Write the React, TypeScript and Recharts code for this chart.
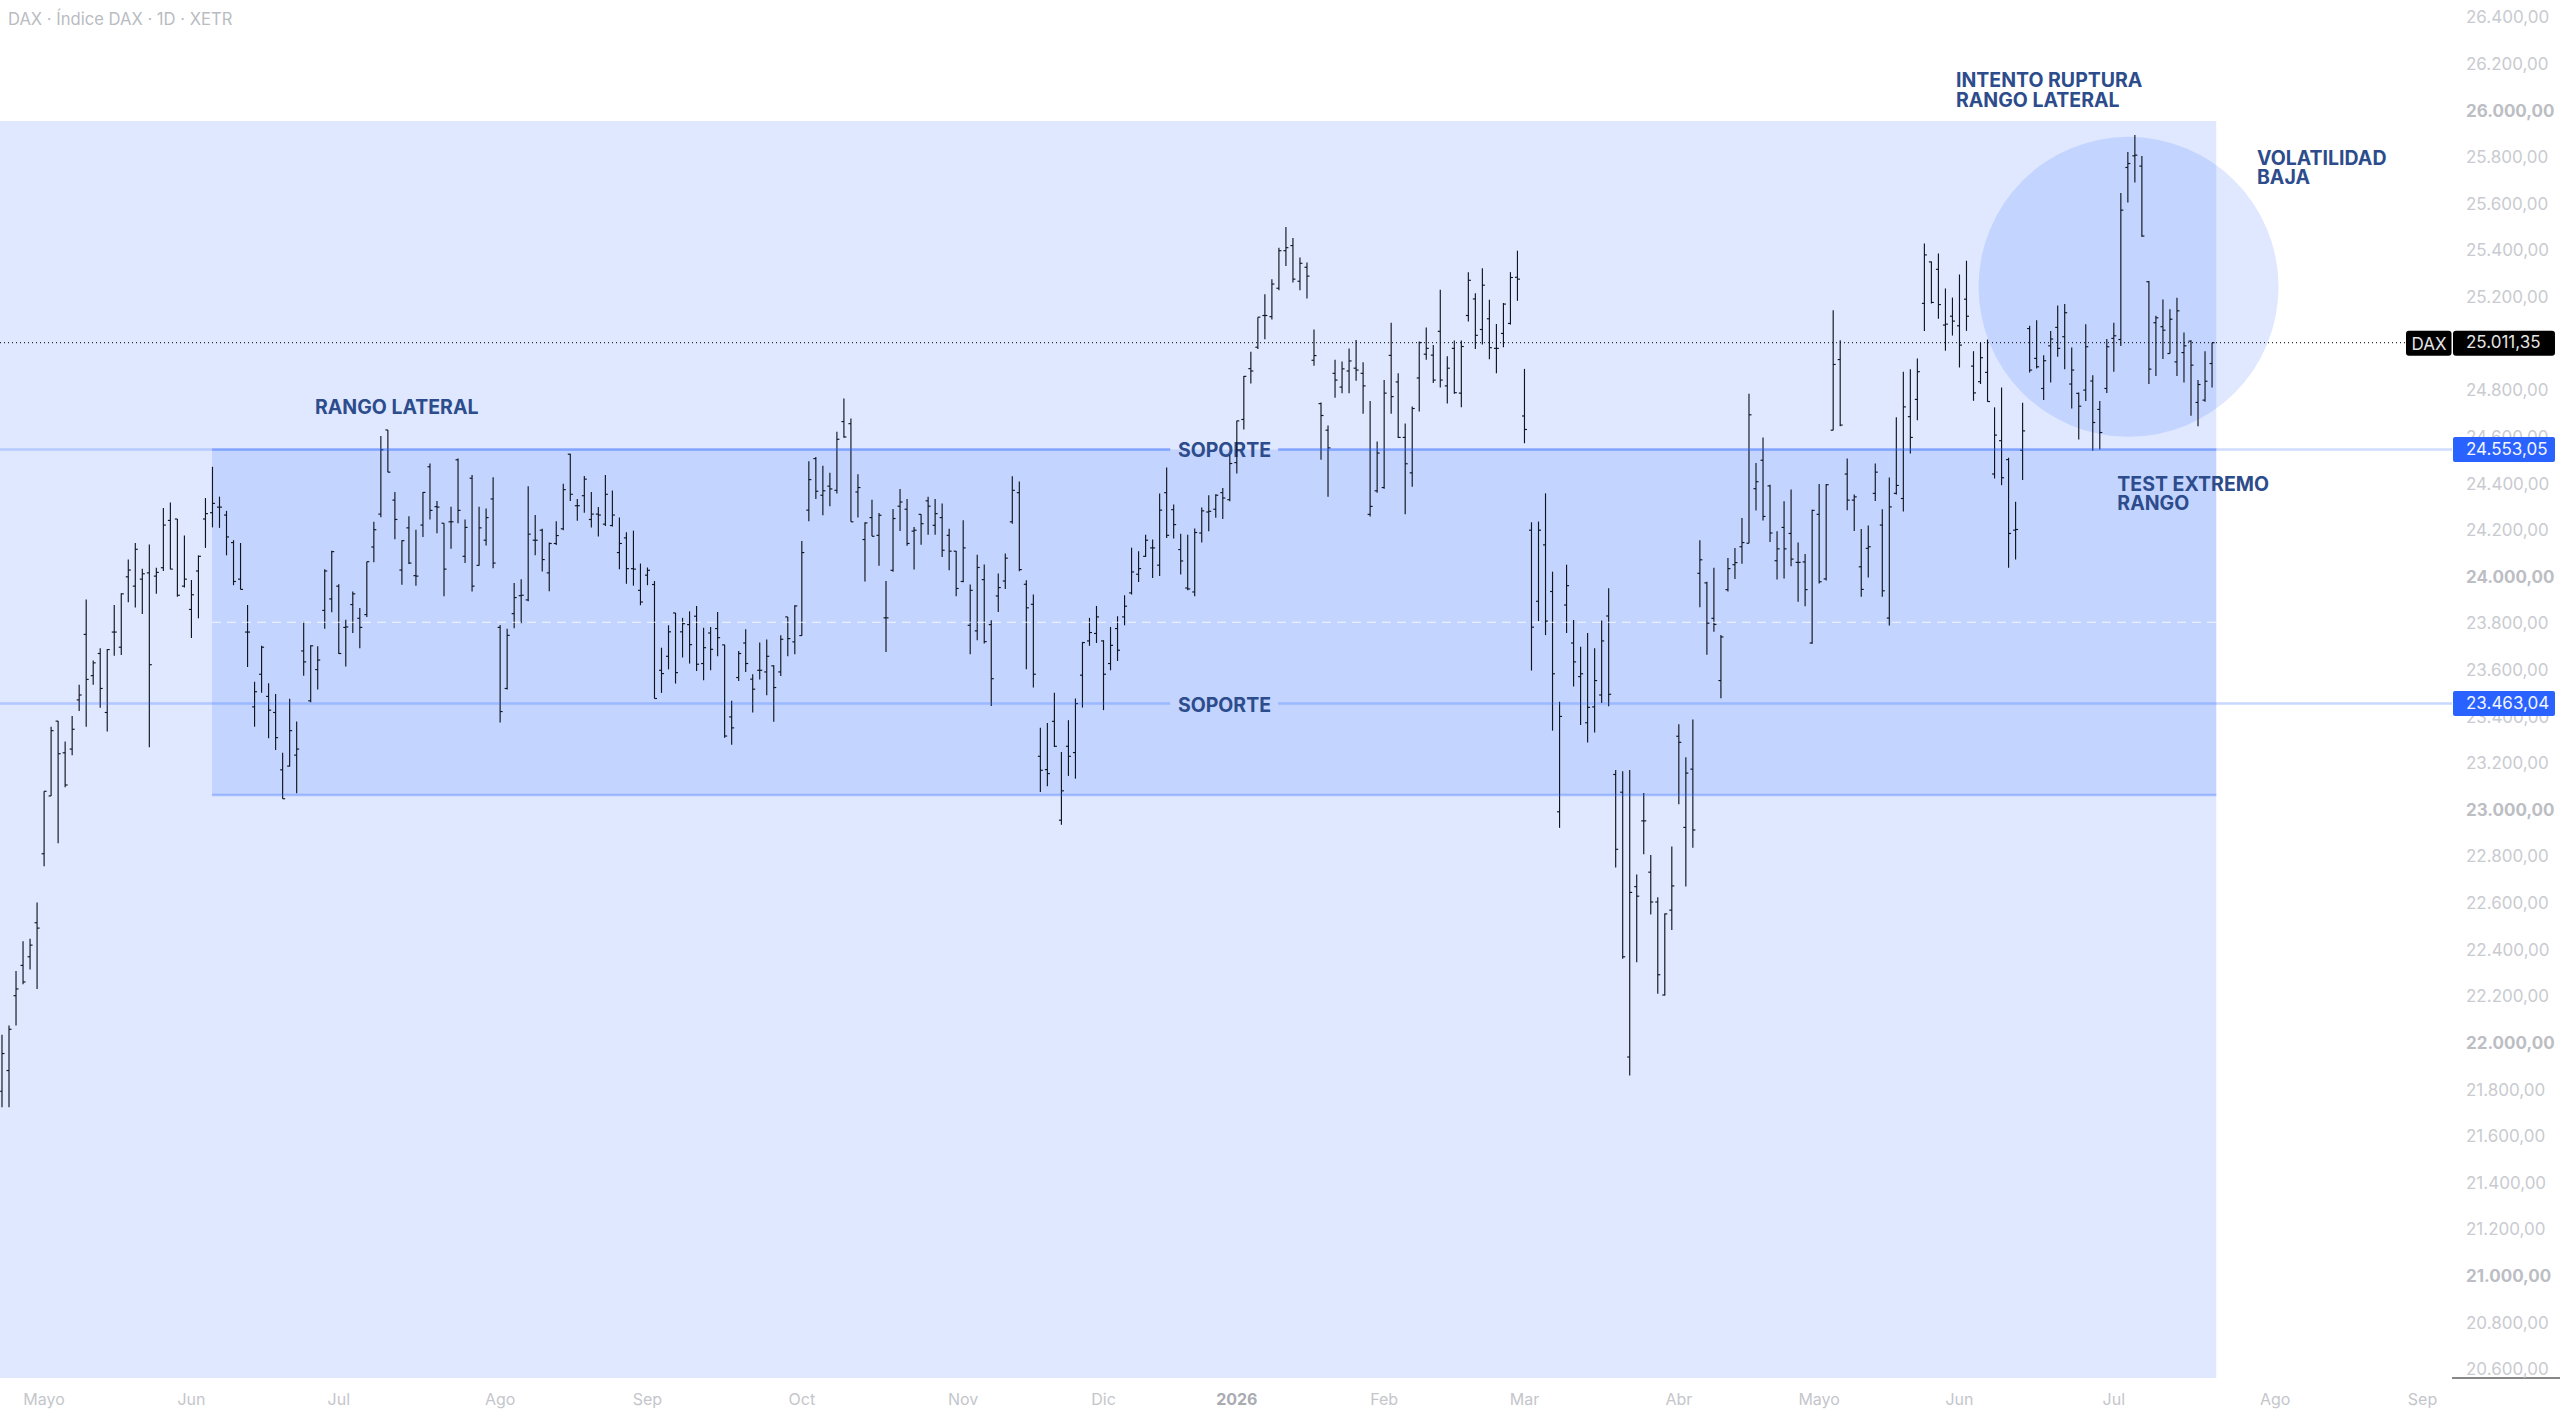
import { Bar, ComposedChart, ReferenceArea, ReferenceDot, ReferenceLine, XAxis, YAxis } from "recharts";

const opens = [21800,21889,22210,22340,22377,22523,22819,23067,23388,23252,23268,23479,23760,23583,23678,23425,23770,23705,24007,23967,23997,24024,24010,24046,24249,24255,23967,23867,24032,24255,24282,24306,24272,24154,23997,23770,23449,23589,23494,23425,23179,23195,23242,23689,23475,23609,23863,23912,23967,23790,23888,23829,23845,24135,24276,24637,24336,24036,24217,24012,24229,24479,24308,24237,24243,24509,24095,24430,24056,24164,24341,23790,23528,23849,23926,23908,24164,24207,24024,24150,24213,24533,24312,24355,24253,24276,24233,24227,24111,24174,24042,
  23949,24014,23974,23606,23666,23852,23771,23802,23838,23635,23766,23785,23715,23406,23575,23723,23568,23606,23599,23625,23599,23835,23728,23755,24293,24514,24357,24396,24378,24673,24664,24371,24167,24261,24185,23831,24035,24310,24297,24203,24275,24333,24228,24261,24185,24117,23987,23799,23775,23995,23802,23925,23989,24243,24368,23975,23889,23237,23180,23387,22963,23280,23253,23585,23732,23764,23732,23635,23785,23835,23938,24018,24095,24131,24057,24368,24295,24124,23959,23942,24195,24285,24297,24368,24338,24497,24682,24900,
  24992,25128,25123,25245,25406,25428,25275,25335,24936,24750,24636,24880,24821,24890,24902,24880,24275,24376,24390,24957,24843,24605,24453,24860,24962,24958,25060,24826,24987,24795,25128,25199,25068,25114,24987,25051,25094,25292,24697,24207,23902,24144,23944,22999,23886,23723,23579,23381,23449,23500,23839,23159,23083,21947,22678,22960,22740,22612,22213,22577,23323,22932,23182,24022,23981,23829,23562,23952,24059,24136,24151,24385,24507,24397,24076,24219,24193,24069,24071,23723,24275,23998,
  24636,24939,24448,24336,24050,24129,24365,24229,23830,24365,24343,24694,24768,25180,25358,25326,25087,25125,25084,25198,24911,24844,24884,24448,24591,24510,24207,24550,25072,24944,24815,24998,25077,25037,24834,24794,24808,24847,24725,24815,25030,25025,25763,25813,25769,25273,25097,25080,24965,24929,24969,25018,24755,24765,24922];
const highs = [22042,22082,22316,22444,22454,22610,23087,23364,23388,23301,23410,23544,23910,23648,23701,23697,23886,23936,24081,24152,24042,24146,24046,24302,24326,24255,24184,23993,24099,24345,24479,24351,24290,24164,24152,23886,23557,23711,23550,23504,23252,23484,23386,23814,23713,23709,24040,24119,23975,23823,23944,23873,24072,24243,24611,24637,24371,24164,24267,24209,24371,24493,24332,24237,24308,24515,24253,24444,24308,24300,24434,23800,23784,23981,23997,24395,24272,24213,24154,24245,24406,24535,24341,24440,24371,24306,24444,24377,24261,24198,24205,
  24064,24047,23989,23703,23799,23852,23831,23859,23882,23788,23792,23856,23716,23475,23689,23782,23589,23725,23738,23628,23756,23835,23885,24161,24503,24521,24483,24453,24629,24772,24686,24447,24241,24338,24281,23989,24298,24384,24341,24221,24275,24350,24341,24321,24213,24118,24250,23974,24102,24060,23821,24021,24107,24438,24416,23992,23931,23360,23380,23510,23256,23392,23485,23728,23831,23882,23735,23792,23838,23928,24132,24117,24187,24167,24364,24476,24317,24192,24188,24214,24304,24357,24361,24388,24529,24676,24869,24972,
  25121,25219,25284,25419,25508,25460,25377,25355,25068,24755,24656,24938,24931,24987,25023,24928,24761,24588,24851,25097,24880,24665,24738,25016,25077,25002,25238,24953,25021,25021,25314,25224,25331,25196,25092,25182,25314,25406,24899,24241,24244,24365,24029,23471,24059,23822,23707,23766,23701,23820,23958,23178,23173,23178,22730,23080,22814,22632,22563,22850,23375,23233,23395,24164,23986,24046,23757,24088,24131,24259,24792,24495,24605,24402,24202,24331,24382,24154,24105,24295,24405,24405,
  25151,25022,24515,24360,24212,24227,24493,24297,24433,24691,24887,24897,24944,25437,25360,25394,25244,25205,25304,25363,24975,25012,25025,24734,24819,24518,24329,24754,25084,25108,24958,25062,25171,25177,24991,24798,25090,24872,24761,25027,25097,25654,25829,25902,25812,25276,25127,25197,25155,25204,25055,25022,24851,24975,25011.35];
const lows = [21731,21731,22082,22259,22322,22239,22765,23067,22864,23104,23242,23431,23364,23544,23445,23343,23668,23672,23898,23875,23847,23276,23934,24032,24040,23922,23961,23745,23829,24131,24219,24217,24099,23971,23953,23620,23364,23510,23315,23264,23055,23193,23079,23583,23469,23524,23784,23855,23676,23622,23766,23701,23835,24070,24263,24456,24168,23973,24062,23969,24178,24253,24194,23924,24127,24237,24066,23944,24056,24141,24044,23382,23524,23786,23808,23902,24099,24030,23945,24143,24207,24332,24247,24282,24219,24180,24225,24223,24040,23977,23969,
  23885,23971,23485,23509,23610,23549,23661,23635,23603,23563,23606,23666,23317,23287,23560,23599,23425,23566,23499,23385,23581,23666,23675,23754,24245,24341,24271,24310,24364,24604,24243,24261,23987,24181,24054,23685,24029,24204,24140,24038,24145,24188,24188,24092,24035,23924,23984,23675,23735,23721,23453,23856,23955,24235,24031,23610,23532,23084,23109,23277,22943,23153,23141,23446,23711,23723,23435,23606,23646,23799,23931,23985,24092,24002,24011,24174,24171,24017,23949,23924,24154,24203,24260,24255,24331,24450,24639,24836,
  24984,25026,25111,25236,25340,25270,25236,25201,24912,24509,24351,24775,24795,24794,24848,24707,24266,24368,24385,24707,24602,24275,24393,24716,24938,24838,24819,24751,24792,24734,25102,24984,25004,24940,24880,24992,25089,25191,24580,23605,23817,23757,23347,22930,23766,23537,23371,23296,23339,23466,23452,22760,22369,21868,22354,22817,22558,22218,22211,22492,23031,22678,22845,23876,23673,23771,23486,23944,23998,24063,24151,24292,24249,24156,23995,24000,24052,23900,23881,23720,23978,23991,
  24636,24653,24293,24204,23921,24004,24332,23921,23798,24360,24287,24536,24679,25062,25180,25114,24977,25042,24905,25062,24762,24834,24758,24429,24400,24046,24081,24422,24884,24901,24765,24841,24951,24897,24729,24596,24761,24548,24553,24796,24887,24997,25613,25699,25466,24834,24869,24941,24965,24869,24841,24698,24653,24758,24819];
const closes = [21962,22066,22239,22269,22427,22500,23087,23347,23248,23114,23353,23500,23567,23638,23528,23695,23770,23934,24036,24125,24020,23630,24026,24229,24040,23928,23997,23930,24095,24278,24322,24306,24178,23987,23953,23770,23514,23705,23435,23317,23055,23347,23268,23642,23711,23650,24032,24115,23678,23792,23934,23790,24072,24209,24552,24456,24253,24162,24066,24010,24369,24292,24306,24040,24243,24292,24219,23967,24217,24261,24066,23429,23756,23918,23928,24190,24164,24081,24150,24184,24381,24361,24312,24426,24276,24272,24361,24272,24150,24042,24040,
  23899,24035,23485,23592,23771,23596,23806,23716,23632,23703,23696,23746,23324,23359,23678,23635,23525,23606,23666,23532,23739,23742,23882,24111,24424,24374,24376,24384,24597,24607,24243,24390,24238,24181,24271,23831,24257,24328,24150,24207,24235,24310,24278,24121,24117,23957,24131,23949,24047,23729,23570,23961,24087,24378,24038,23874,23589,23177,23163,23280,23089,23237,23463,23725,23768,23835,23589,23713,23692,23881,24028,24042,24164,24131,24293,24185,24231,24075,23955,24197,24290,24288,24357,24345,24493,24676,24867,24890,
  25121,25128,25263,25406,25419,25284,25352,25297,24956,24699,24560,24851,24899,24933,24894,24826,24309,24538,24795,24780,24605,24492,24729,25012,24987,24851,24851,24902,24797,24995,25279,25043,25258,24990,24987,25177,25291,25284,24639,23791,24207,23817,23591,23408,23969,23642,23591,23447,23562,23732,23503,22838,22377,22653,22637,22960,22612,22300,22561,22681,23297,23165,22921,24080,23808,23803,23749,24042,24068,24154,24702,24415,24266,24195,24127,24127,24083,24069,23952,24292,23986,24402,
  24918,24658,24336,24350,23953,24136,24456,23947,24307,24399,24736,24605,24887,25388,25184,25175,25091,25104,25001,25125,24796,24947,24759,24615,24432,24193,24210,24633,24894,24908,24934,25027,24987,25140,24894,24739,24994,24669,24626,24994,25041,25580,25780,25816,25469,24898,25118,25065,25112,25148,24998,24915,24832,24846,25011.35];

const rows = closes.map((close, i) => ({ i, open: opens[i], close, range: [lows[i], highs[i]] }));

// el 25.000,00 queda tapado por la etiqueta negra, no se dibuja
const priceTicks = [26400,26200,26000,25800,25600,25400,25200,24800,24600,24400,24200,24000,23800,23600,23400,23200,23000,22800,22600,22400,22200,22000,21800,21600,21400,21200,21000,20800,20600];
const lastPrice = 25011.35;
const upperLevel = 24553.05;
const lowerLevel = 23463.04;

const monthTicks = [6,27,48,71,92,114,137,157,176,197,217,239,259,279,301,324,345];
const monthLabels = ["Mayo","Jun","Jul","Ago","Sep","Oct","Nov","Dic","2026","Feb","Mar","Abr","Mayo","Jun","Jul","Ago","Sep"];

const X_MIN = -0.285;
const X_MAX = 349.2;
const Y_MIN = 20570;
const Y_MAX = 26481.5;
const BAND_END = 315.6;
const RANGE_START = 29.93;
const RANGE_LOW = 23071;
const INK = "#2d4c8c";
const FONT = "Inter, sans-serif";

const notes = [
  { text: "RANGO LATERAL", x: 44.6, y: 24735 },
  { text: "INTENTO RUPTURA", x: 278.5, y: 26138 },
  { text: "RANGO LATERAL", x: 278.5, y: 26052 },
  { text: "VOLATILIDAD", x: 321.4, y: 25803 },
  { text: "BAJA", x: 321.4, y: 25722 },
  { text: "TEST EXTREMO", x: 301.5, y: 24405 },
  { text: "RANGO", x: 301.5, y: 24323 },
  { text: "SOPORTE", x: 167.6, y: 24551 },
  { text: "SOPORTE", x: 167.6, y: 23459 },
];

const fmt = (v: number) => v.toLocaleString("de-DE", { minimumFractionDigits: 2, maximumFractionDigits: 2 });

// OHLC: palo de máximo a mínimo, apertura a la izquierda y cierre a la derecha
function OhlcBar({ x, y, width, height, payload }: any) {
  const cx = x + width / 2;
  const [low, high] = payload.range;
  const perUnit = height / (high - low);
  const openY = y + (high - payload.open) * perUnit;
  const closeY = y + (high - payload.close) * perUnit;
  return (
    <g stroke="#12151f" strokeWidth={1.15}>
      <line x1={cx} x2={cx} y1={y} y2={y + height} />
      <line x1={cx - 2.5} x2={cx} y1={openY} y2={openY} />
      <line x1={cx} x2={cx + 2.5} y1={closeY} y2={closeY} />
    </g>
  );
}

function PriceTick({ x, y, payload }: any) {
  const value = payload.value;
  if (value === lastPrice) {
    return (
      <g fontFamily={FONT} fontSize={17}>
        <rect x={x - 46} y={y - 12} width={45.5} height={25} rx={3} fill="#000" />
        <rect x={x + 1} y={y - 12} width={102} height={25} rx={3} fill="#000" />
        <text x={x - 23} y={y + 1} textAnchor="middle" dominantBaseline="central" fill="#e4e4e4">DAX</text>
        <text x={x + 14} y={y - 0.5} dominantBaseline="central" fill="#e4e4e4">{fmt(value)}</text>
      </g>
    );
  }
  if (value === upperLevel || value === lowerLevel) {
    return (
      <g fontFamily={FONT} fontSize={17}>
        <rect x={x + 1} y={y - 12.5} width={102} height={25} rx={2} fill="#2962ff" />
        <text x={x + 14} y={y - 1} dominantBaseline="central" fill="#f2f5ff">{fmt(value)}</text>
      </g>
    );
  }
  const major = value % 1000 === 0;
  return (
    <text x={x + 14} y={y - 1.7} dominantBaseline="central" fontFamily={FONT} fontSize={17} fontWeight={major ? 700 : 400} fill={major ? "#bcbec4" : "#c9cbd0"}>
      {fmt(value)}
    </text>
  );
}

function MonthTick({ x, y, payload, index }: any) {
  const label = monthLabels[monthTicks.indexOf(payload.value)] ?? monthLabels[index];
  const isYear = label === "2026";
  return (
    <text x={x} y={y} textAnchor="middle" dominantBaseline="central" fontFamily={FONT} fontSize={16} fontWeight={isYear ? 700 : 400} fill={isYear ? "#a9abb2" : "#c4c6cb"}>
      {label}
    </text>
  );
}

const noteShape = (text: string) => (props: any) => (
  <text x={props.cx} y={props.cy} dominantBaseline="central" fontFamily={FONT} fontSize={19.5} fontWeight={700} fill={INK}>
    {text}
  </text>
);

export default function App() {
  return (
    <div style={{ position: "fixed", left: 0, top: 0, width: 2560, height: 1413, background: "#fff" }}>
      <div style={{ position: "absolute", left: 8, top: 9, fontFamily: FONT, fontSize: 16.6, lineHeight: "20px", color: "#babcc2" }}>
        DAX · Índice DAX · 1D · XETR
      </div>
      <ComposedChart width={2560} height={1413} data={rows} margin={{ top: 0, right: 0, bottom: 0, left: 0 }}>
        <XAxis
          dataKey="i"
          type="number"
          domain={[X_MIN, X_MAX]}
          ticks={monthTicks}
          interval={0}
          height={35}
          axisLine={false}
          tickLine={false}
          tickMargin={0}
          tick={(p: any) => <MonthTick {...p} y={1399} />}
        />
        <YAxis
          orientation="right"
          type="number"
          domain={[Y_MIN, Y_MAX]}
          ticks={[...priceTicks, lowerLevel, upperLevel, lastPrice]}
          interval={0}
          width={108}
          axisLine={false}
          tickLine={false}
          tick={(p: any) => <PriceTick {...p} x={2452} />}
        />

        <ReferenceArea x1={X_MIN} x2={BAND_END} y1={Y_MIN} y2={25962} fill="#2962ff" fillOpacity={0.15} stroke="none" />
        <ReferenceArea x1={RANGE_START} x2={BAND_END} y1={RANGE_LOW} y2={upperLevel} fill="#2962ff" fillOpacity={0.15} stroke="none" />
        <ReferenceDot x={303.1} y={25251} r={150} fill="#2962ff" fillOpacity={0.15} stroke="none" zIndex={100} />

        <ReferenceLine segment={[{ x: RANGE_START, y: upperLevel }, { x: 166.5, y: upperLevel }]} stroke="#2962ff" strokeOpacity={0.3} strokeWidth={2.5} />
        <ReferenceLine segment={[{ x: 181.9, y: upperLevel }, { x: BAND_END, y: upperLevel }]} stroke="#2962ff" strokeOpacity={0.3} strokeWidth={2.5} />
        <ReferenceLine segment={[{ x: RANGE_START, y: RANGE_LOW }, { x: BAND_END, y: RANGE_LOW }]} stroke="#2962ff" strokeOpacity={0.3} strokeWidth={2.5} />
        <ReferenceLine segment={[{ x: X_MIN, y: upperLevel }, { x: 166.5, y: upperLevel }]} stroke="#2962ff" strokeOpacity={0.22} strokeWidth={2.5} />
        <ReferenceLine segment={[{ x: 181.9, y: upperLevel }, { x: X_MAX, y: upperLevel }]} stroke="#2962ff" strokeOpacity={0.22} strokeWidth={2.5} />
        <ReferenceLine segment={[{ x: X_MIN, y: lowerLevel }, { x: 166.5, y: lowerLevel }]} stroke="#2962ff" strokeOpacity={0.25} strokeWidth={2.5} />
        <ReferenceLine segment={[{ x: 181.9, y: lowerLevel }, { x: X_MAX, y: lowerLevel }]} stroke="#2962ff" strokeOpacity={0.25} strokeWidth={2.5} />
        <ReferenceLine segment={[{ x: RANGE_START, y: 23812 }, { x: BAND_END, y: 23812 }]} stroke="#ffffff" strokeOpacity={0.8} strokeWidth={1.2} strokeDasharray="9 6" />
        <ReferenceLine segment={[{ x: X_MIN, y: lastPrice }, { x: 342.6, y: lastPrice }]} stroke="#000" strokeWidth={1} strokeDasharray="1 3" />
        <ReferenceLine segment={[{ x: X_MAX, y: Y_MIN }, { x: X_MAX + 16, y: Y_MIN }]} stroke="#111" strokeWidth={1} ifOverflow="visible" />

        {notes.map((n, k) => (
          <ReferenceDot key={k} x={n.x} y={n.y} r={0} shape={noteShape(n.text)} zIndex={200} />
        ))}

        <Bar dataKey="range" barSize={1} isAnimationActive={false} shape={OhlcBar} />
      </ComposedChart>
    </div>
  );
}
